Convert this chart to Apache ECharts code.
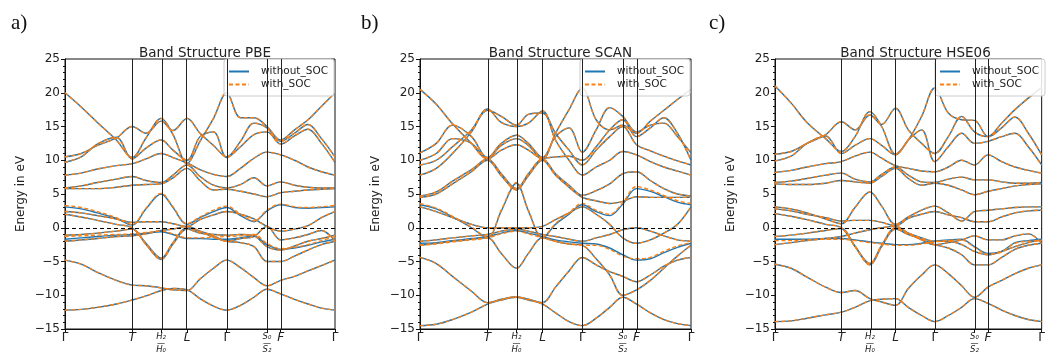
<!DOCTYPE html>
<html>
<head>
<meta charset="utf-8">
<title>Band structures</title>
<script src="https://cdn.jsdelivr.net/npm/echarts@6/dist/echarts.min.js"></script>
<style>
  html, body { margin: 0; padding: 0; background: #fff; }
  #chart { width: 1048px; height: 358px; }
</style>
</head>
<body>
<div id="chart"></div>
<script>
// k-path sample positions (normalised path length) and the high-symmetry points on it
const kPoints = [0, 0.06, 0.12, 0.19, 0.249, 0.30, 0.356, 0.40, 0.452, 0.50, 0.55, 0.599, 0.65, 0.70, 0.748, 0.799, 0.85, 0.90, 0.95, 1];
const kTicks = [0, 0.249, 0.356, 0.452, 0.599, 0.748, 0.799, 1];
const kTickNames = ['Γ', 'T', 'H2/H0', 'L', 'Γ', 'S0/S2', 'F', 'Γ'];

const panelTitles = ['Band Structure PBE', 'Band Structure SCAN', 'Band Structure HSE06'];
const panelTags = ['a)', 'b)', 'c)'];
const seriesNames = ['without_SOC', 'with_SOC'];

// PBE bands (eV), one row per band along kPoints
const pbeBands = [
  [-12.2,-12.1,-11.8,-11.3,-10.7,-10.1,-9.3,-9.0,-9.2,-10.5,-11.6,-12.2,-11.5,-10.3,-9.1,-9.8,-10.6,-11.3,-11.9,-12.2],
  [-4.8,-5.4,-6.6,-7.8,-8.5,-8.6,-8.9,-9.2,-9.3,-7.6,-6.0,-4.8,-5.9,-7.4,-8.6,-7.8,-7.2,-6.4,-5.6,-4.8],
  [3.1,2.8,2.2,1.4,0.4,2.8,5.0,3.0,0.5,1.5,2.4,3.0,1.8,0.9,2.5,3.4,3.0,2.9,3.0,3.1],
  [2.4,2.2,1.8,1.3,0.8,0.9,0.9,0.6,0.2,1.2,1.9,2.4,2.0,1.3,0.2,-0.5,-0.2,0.3,1.5,2.4],
  [2.0,1.6,1.1,0.5,0.0,-2.3,-4.5,-2.2,0.0,-0.6,-1.4,-2.0,-2.2,-2.8,-5.0,-5.0,-4.2,-3.3,-2.5,-2.0],
  [-1.1,-1.0,-0.8,-0.5,-0.2,-2.5,-4.7,-2.4,-0.2,-0.8,-1.0,-1.1,-1.0,-1.2,-2.8,-3.3,-2.7,-2.0,-1.6,-1.1],
  [-1.7,-1.5,-1.3,-1.1,-1.0,-0.8,-0.6,-1.0,-1.6,-1.6,-1.7,-1.7,-1.5,-1.2,-2.5,-3.2,-3.0,-2.6,-2.1,-1.7],
  [-2.0,-1.8,-1.6,-1.3,-1.2,-0.9,-0.4,-0.2,0.2,-0.5,-1.2,-2.0,-1.6,-1.3,0.2,-1.8,-1.5,-1.0,-0.4,-2.0],
  [5.8,5.8,5.8,6.0,6.3,6.4,6.5,7.4,8.8,7.0,5.6,5.7,5.4,5.0,4.6,5.2,5.4,5.6,5.7,5.8],
  [5.9,6.2,6.7,7.2,7.6,7.0,6.7,7.8,9.3,7.6,6.3,5.9,6.4,7.4,6.2,6.8,6.3,6.0,5.9,5.9],
  [7.8,8.1,8.7,9.2,9.5,10.2,11.0,10.4,9.6,8.6,7.9,7.6,8.8,10.3,11.2,10.8,10.0,9.0,8.3,7.8],
  [9.7,10.5,12.4,13.4,10.2,11.8,13.0,11.5,10.0,13.5,14.2,10.4,12.0,13.8,14.2,12.4,13.6,14.6,12.5,9.7],
  [10.5,11.0,12.2,13.3,15.0,14.0,15.8,14.4,16.2,14.0,12.2,10.5,12.8,15.5,14.8,12.8,14.0,15.3,13.2,10.5],
  [20.0,17.9,15.6,13.0,10.4,13.3,16.2,13.8,9.5,12.8,16.2,20.0,16.3,16.3,15.0,13.0,14.5,16.0,18.0,20.0]
];
// PBE bands that shift visibly once spin-orbit coupling is included
const pbeSocBand2 = [3.3,3.0,2.4,1.5,0.5,2.9,5.1,3.1,0.6,1.6,2.6,3.2,2.0,1.0,2.6,3.5,3.1,3.0,3.1,3.3];
const pbeSocBand6 = [-1.3,-1.2,-1.1,-1.0,-0.9,-0.7,-0.5,-0.9,-1.5,-1.5,-1.4,-1.3,-1.2,-1.0,-2.3,-3.1,-2.9,-2.5,-1.9,-1.3];

// SCAN bands (eV)
const scanBands = [
  [-14.5,-14.3,-13.6,-12.5,-11.3,-10.7,-10.3,-10.7,-11.3,-12.6,-13.9,-14.5,-13.4,-11.8,-10.3,-11.3,-12.6,-13.6,-14.2,-14.5],
  [-4.4,-5.3,-7.2,-9.4,-11.1,-10.6,-10.2,-10.6,-11.1,-8.8,-6.4,-4.4,-5.5,-6.5,-7.2,-8.0,-7.0,-5.7,-4.8,-4.4],
  [-2.6,-2.3,-2.0,-1.7,-1.5,-3.8,-6.0,-3.8,-1.5,-2.0,-2.4,-2.6,-4.6,-7.0,-10.0,-9.2,-7.8,-6.0,-4.2,-2.6],
  [-2.3,-2.2,-1.9,-1.6,-1.3,-0.8,-0.4,-0.8,-1.3,-1.8,-2.1,-2.3,-2.4,-3.0,-4.0,-4.8,-4.6,-3.7,-2.9,-2.3],
  [-2.0,-1.8,-1.5,-1.2,-1.0,-0.5,-0.2,-0.5,-1.0,-1.3,-1.7,-2.0,-1.5,-1.0,-0.3,0.0,-0.5,-1.2,-1.8,-2.0],
  [3.1,2.4,1.5,0.5,0.0,0.0,0.0,0.0,0.2,1.2,2.2,3.1,2.0,0.5,-1.5,-2.3,-1.8,-0.8,0.5,3.1],
  [3.4,2.8,1.6,0.0,-1.5,2.5,6.6,2.5,-1.5,0.5,2.0,3.4,2.4,1.8,3.5,5.8,5.4,4.6,3.8,3.4],
  [4.5,5.0,6.5,8.3,10.0,7.7,5.6,7.7,10.0,7.8,6.0,4.5,4.0,3.6,3.9,4.6,4.5,4.5,4.5,4.5],
  [4.7,5.3,6.9,8.6,10.2,8.0,5.8,8.0,10.2,8.0,6.3,4.8,5.5,6.5,8.0,8.3,7.0,5.8,5.0,4.7],
  [7.8,8.8,11.0,14.2,17.6,15.6,15.0,15.5,17.3,13.0,10.0,7.8,9.0,10.0,11.3,10.8,9.8,9.0,8.4,7.8],
  [9.3,10.0,12.0,14.5,17.4,16.5,15.2,16.8,17.0,14.0,11.5,9.3,11.5,13.5,15.0,12.3,11.4,10.6,9.9,9.3],
  [10.0,11.0,13.2,12.5,10.3,12.2,13.2,12.2,10.3,10.5,10.6,10.0,12.0,14.5,16.0,13.5,14.8,16.3,14.0,10.0],
  [11.1,12.5,15.2,13.5,10.4,12.5,13.7,12.5,10.4,13.5,14.8,11.2,14.5,17.8,16.5,14.2,15.2,15.5,13.5,11.1],
  [20.5,18.3,15.4,12.5,10.2,11.5,12.3,11.5,10.2,14.0,17.5,20.7,16.0,14.5,15.2,14.0,15.8,17.4,19.0,20.5]
];
const scanSocBand3 = [-2.6,-2.4,-2.1,-1.8,-1.5,-0.9,-0.5,-0.9,-1.5,-2.0,-2.4,-2.6,-2.6,-3.2,-4.2,-4.6,-4.4,-3.5,-2.7,-2.2];
const scanSocBand6 = [3.6,2.9,1.7,0.1,-1.4,2.6,6.7,2.6,-1.4,0.6,2.2,3.6,2.6,2.0,3.7,6.1,5.6,4.8,4.0,3.6];

// HSE06 bands (eV)
const hseBands = [
  [-13.9,-13.8,-13.4,-12.9,-12.5,-11.8,-10.8,-10.6,-10.5,-11.8,-13.0,-13.9,-13.0,-11.8,-10.5,-11.2,-12.2,-13.0,-13.6,-13.9],
  [-5.4,-6.0,-7.3,-8.8,-9.6,-9.3,-10.5,-11.0,-11.5,-9.0,-7.0,-5.5,-6.8,-8.6,-10.3,-8.8,-7.8,-6.8,-6.0,-5.5],
  [3.1,2.8,2.2,1.3,0.6,3.0,5.3,3.2,0.5,1.6,2.6,3.2,2.2,1.0,2.4,2.6,2.8,3.0,3.1,3.1],
  [2.8,2.5,2.0,1.5,1.0,1.1,1.1,0.8,0.3,1.4,2.0,2.4,1.9,1.5,0.9,0.9,1.6,2.2,2.5,2.6],
  [2.1,1.7,1.2,0.5,0.0,-2.7,-5.3,-2.6,0.0,-0.8,-1.5,-2.0,-2.0,-2.5,-3.5,-4.0,-3.5,-2.8,-2.2,-1.8],
  [-1.3,-1.1,-0.8,-0.4,-0.1,-2.8,-5.5,-2.8,-0.2,-1.0,-1.7,-2.5,-3.0,-4.0,-5.5,-5.5,-4.4,-3.2,-2.6,-2.3],
  [-1.7,-1.7,-1.7,-1.6,-1.6,-1.8,-2.1,-2.3,-2.5,-2.5,-2.3,-2.0,-1.8,-1.7,-2.8,-3.8,-3.5,-2.2,-1.9,-1.7],
  [-2.5,-2.2,-1.9,-1.6,-1.3,-0.8,-0.3,0.0,0.2,-0.8,-1.8,-2.5,-2.2,-1.8,-1.2,-1.8,-1.8,-1.2,-0.9,-2.3],
  [6.5,6.4,6.4,6.6,7.0,6.8,6.6,7.6,8.8,7.3,6.3,6.6,6.3,5.6,4.9,5.4,5.8,6.2,6.4,6.5],
  [6.7,6.9,7.3,7.8,8.1,7.2,6.8,7.9,9.0,7.8,6.8,6.7,7.2,7.5,7.1,7.1,6.8,6.6,6.6,6.7],
  [8.2,8.5,9.0,9.5,9.8,10.6,11.2,10.3,9.2,8.8,8.4,8.3,9.0,10.0,9.3,10.8,9.8,9.0,8.5,8.1],
  [9.9,10.6,12.5,13.6,11.0,12.2,13.2,12.2,10.8,13.0,14.5,9.8,12.0,14.0,12.5,12.8,13.5,14.0,12.0,9.3],
  [10.9,11.3,12.5,13.8,15.7,14.5,16.7,15.3,17.7,14.5,12.5,11.0,13.5,16.5,14.2,13.5,14.8,16.4,14.0,10.8],
  [21.0,18.5,15.6,13.2,11.3,13.5,17.2,15.0,10.9,13.0,16.5,20.7,17.0,16.0,15.9,13.5,15.5,17.5,19.2,20.8]
];
const hseSocBand6 = [-1.9,-1.9,-1.8,-1.7,-1.7,-1.9,-2.2,-2.4,-2.6,-2.6,-2.4,-2.1,-1.9,-1.8,-2.9,-3.9,-3.6,-2.3,-2.0,-1.9];

// with_SOC band sets: same as without_SOC except the listed rows
function withRows(bands, rows) {
  return bands.map((b, i) => rows[i] || b);
}
const pbeSocBands = withRows(pbeBands, { 2: pbeSocBand2, 6: pbeSocBand6 });
const scanSocBands = withRows(scanBands, { 3: scanSocBand3, 6: scanSocBand6 });
const hseSocBands = withRows(hseBands, { 6: hseSocBand6 });

const panels = [
  { bands: pbeBands, soc: pbeSocBands, left: 65, width: 270, tagLeft: 6 },
  { bands: scanBands, soc: scanSocBands, left: 420, width: 271, tagLeft: 356 },
  { bands: hseBands, soc: hseSocBands, left: 775, width: 271, tagLeft: 704 }
];

const TOP = 59, HEIGHT = 270;
const BLUE = '#1f77b4', ORANGE = '#ff7f0e';
const FONT = 'DejaVu Sans';

const tickRich = {
  g: { fontFamily: FONT, fontSize: 12, color: '#222' },
  i: { fontFamily: FONT, fontSize: 12, fontStyle: 'italic', color: '#222' },
  f: { fontFamily: FONT, fontSize: 8.5, fontStyle: 'italic', color: '#222', lineHeight: 10 },
  bar: { fontFamily: FONT, fontSize: 8, color: '#222', lineHeight: 3 }
};
function tickLabel(v) {
  const i = kTicks.findIndex(t => Math.abs(t - v) < 1e-6);
  if (i < 0) return '';
  const name = kTickNames[i];
  if (name === 'Γ') return '{g|Γ}';
  if (name.indexOf('/') > 0) {
    const [top, bottom] = name.split('/');
    const sub = s => s[0] + { '0': '₀', '1': '₁', '2': '₂' }[s[1]];
    return '{f|' + sub(top) + '}\n{bar|—}\n{f|' + sub(bottom) + '}';
  }
  return '{i|' + name + '}';
}
const energyLabel = v => (v < 0 ? '\u2212' + Math.abs(v) : String(v));

const grid = [], xAxis = [], yAxis = [], series = [], title = [], legend = [];

panels.forEach((p, idx) => {
  grid.push({ left: p.left, top: TOP, width: p.width, height: HEIGHT, show: true,
    borderColor: '#111', borderWidth: 1, backgroundColor: 'transparent' });

  xAxis.push({
    gridIndex: idx, type: 'value', min: 0, max: 1,
    axisLine: { show: true, onZero: false, lineStyle: { color: '#111', width: 1 } },
    axisTick: { show: true, customValues: kTicks, length: 4, lineStyle: { color: '#111' } },
    axisLabel: { customValues: kTicks, formatter: tickLabel, rich: tickRich, margin: 3 },
    splitLine: { show: false }
  });

  yAxis.push({
    gridIndex: idx, type: 'value', min: -15, max: 25, interval: 5,
    axisLine: { show: true, onZero: false, lineStyle: { color: '#111', width: 1 } },
    axisTick: { show: true, length: 4, lineStyle: { color: '#111' } },
    minorTick: { show: true, splitNumber: 5, length: 2, lineStyle: { color: '#111' } },
    axisLabel: { formatter: energyLabel, fontFamily: FONT, fontSize: 12, color: '#222', margin: 5 },
    splitLine: { show: false },
    name: 'Energy in eV', nameLocation: 'middle', nameGap: 38,
    nameTextStyle: { fontFamily: FONT, fontSize: 12, color: '#222' }
  });

  title.push({
    text: panelTitles[idx], left: p.left + p.width / 2, top: 41, textAlign: 'center',
    textStyle: { fontFamily: FONT, fontSize: 13.5, fontWeight: 'normal', color: '#222' }
  });
  title.push({
    text: panelTags[idx], left: p.tagLeft, top: 8,
    textStyle: { fontFamily: "'Liberation Serif', 'DejaVu Serif', serif", fontSize: 21, fontWeight: 'normal', color: '#111' }
  });

  legend.push({
    data: seriesNames, orient: 'vertical',
    right: 1048 - (p.left + p.width) + 1, top: 59,
    itemWidth: 20, itemHeight: 12, itemGap: 2,
    padding: [7, 6, 6, 4],
    itemStyle: { opacity: 0 },
    backgroundColor: 'rgba(255,255,255,0.85)', borderColor: '#cccccc', borderWidth: 1, borderRadius: 3,
    textStyle: { fontFamily: FONT, fontSize: 10.5, color: '#222', padding: [0, 0, 0, 7] },
    selectedMode: false
  });

  p.bands.forEach((b, bi) => {
    const s = {
      type: 'line', name: seriesNames[0], xAxisIndex: idx, yAxisIndex: idx,
      data: kPoints.map((k, j) => [k, b[j]]),
      symbol: 'none', smooth: 0.35, silent: true, z: 2,
      lineStyle: { color: BLUE, width: 1.4 }, itemStyle: { color: BLUE }
    };
    if (bi === 0) {
      // high-symmetry verticals and the Fermi level
      s.markLine = {
        silent: true, symbol: ['none', 'none'], label: { show: false }, animation: false,
        data: kTicks.slice(1, -1).map(v => ({ xAxis: v, lineStyle: { color: '#222', width: 1, type: 'solid' } }))
          .concat([{ yAxis: 0, lineStyle: { color: '#000', width: 1, type: [4, 3] } }])
      };
    }
    series.push(s);
  });
  p.soc.forEach(b => {
    series.push({
      type: 'line', name: seriesNames[1], xAxisIndex: idx, yAxisIndex: idx,
      data: kPoints.map((k, j) => [k, b[j]]),
      symbol: 'none', smooth: 0.35, silent: true, z: 3,
      lineStyle: { color: ORANGE, width: 1.4, type: [4, 2.5] }, itemStyle: { color: ORANGE }
    });
  });
});

const chart = echarts.init(document.getElementById('chart'), null, { renderer: 'canvas' });
chart.setOption({
  animation: false,
  backgroundColor: '#ffffff',
  textStyle: { fontFamily: FONT },
  title, legend, grid, xAxis, yAxis, series
});
</script>
</body>
</html>
